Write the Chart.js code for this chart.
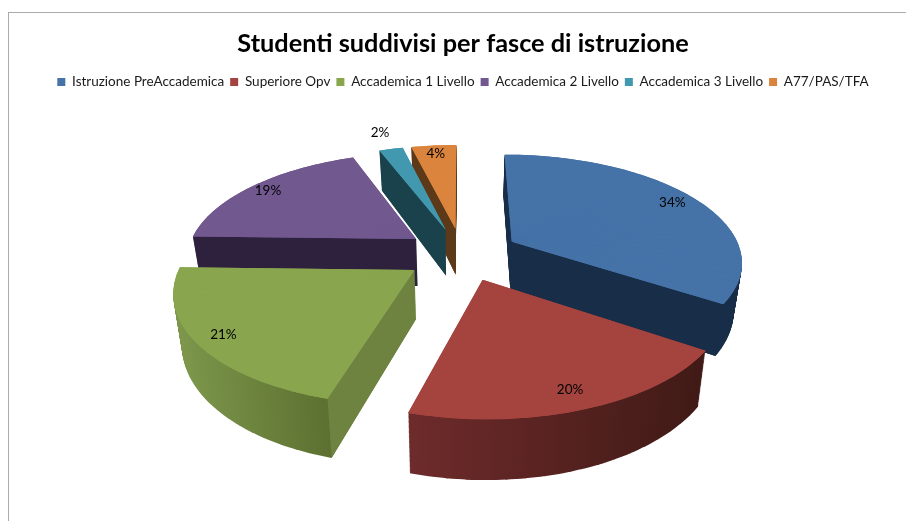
<!DOCTYPE html>
<html><head><meta charset="utf-8">
<style>
html,body{margin:0;padding:0;background:#fff;overflow:hidden}
#wrap{position:relative;width:906px;height:521px}
#frame{position:absolute;left:8px;top:12px;right:-4px;bottom:-4px;border:1px solid #ababab}
canvas{position:absolute;left:0;top:0}
</style>
<script src="https://cdn.jsdelivr.net/npm/chart.js@4"></script>
</head><body>
<div id="wrap"><div id="frame"></div><canvas id="c" width="906" height="521"></canvas></div>
<script>
const categories = ['Istruzione PreAccademica','Superiore Opv','Accademica 1 Livello','Accademica 2 Livello','Accademica 3 Livello','A77/PAS/TFA'];
const shares = [34.4,20,21,18.8,2,3.8];
const topColors = ['#4572A7','#A5443F','#89A54E','#71588F','#4198AF','#DB843D'];
const faceColors = ['#182D47','#431A17','#6E8340','#2E213E','#1A424D','#5C3918'];
const wallStart = ['#182D47','#401A16','#5C7030','#2E213E','#1A424D','#5C3918'];
const wallEnd = ['#182D47','#6E2B2B','#7C964B','#2E213E','#1A424D','#5C3918'];
const labelReach = [0.88,0.87,0.89,0.9,1.24,0.89];
const drawOrder = [5,4,3,0,2,1];

const view = {cx:462,cy:254,R:230,tilt:0.46,persp:0.17,depth:48,taper:0.03,explode:0.25};
const stepAngle = Math.PI/45;
function project(X,Y,z){
  const f=1/(1-view.persp*Y);
  const s=1-view.taper*z/view.depth;
  return {x:view.cx+view.R*X*f*s, y:view.cy+view.R*view.tilt*Y*f+z*f};
}
function flatOptions(fill){
  return {offset:0,spacing:0,borderWidth:0,backgroundColor:fill,borderColor:fill,borderAlign:'center',
    borderDash:[],borderDashOffset:0,borderJoinStyle:'round',circular:true,selfJoin:false};
}
function sliceOffset(arc){
  const mid=(arc.startAngle+arc.endAngle)/2;
  return {mid,ox:view.explode*Math.cos(mid),oy:view.explode*Math.sin(mid)};
}
/* One affine map for a thin wedge of the slice: the wedge's apex and two rim points go through the projection. */
function matrixFor(arc,g,a1,a2,z){
  const r=arc.outerRadius;
  const c1=Math.cos(a1),s1=Math.sin(a1),c2=Math.cos(a2),s2=Math.sin(a2);
  const P0=project(g.ox,g.oy,z), P1=project(g.ox+c1,g.oy+s1,z), P2=project(g.ox+c2,g.oy+s2,z);
  const ux=r*c1,uy=r*s1,vx=r*c2,vy=r*s2, det=ux*vy-vx*uy;
  const ax=P1.x-P0.x,ay=P1.y-P0.y,bx=P2.x-P0.x,by=P2.y-P0.y;
  const a=(ax*vy-bx*uy)/det, c=(bx*ux-ax*vx)/det;
  const b=(ay*vy-by*uy)/det, d=(by*ux-ay*vx)/det;
  return {a,b,c,d,e:P0.x-a*arc.x-c*arc.y,f:P0.y-b*arc.x-d*arc.y,P0};
}
function drawProjected(ctx,arc,g,z,fillFor){
  const total=arc.endAngle-arc.startAngle;
  const n=Math.max(1,Math.ceil(total/stepAngle));
  for(let k=0;k<n;k++){
    const a1=arc.startAngle+total*k/n;
    const a2=arc.startAngle+total*(k+1)/n;
    const lap=k<n-1?0.004:0;
    const m=matrixFor(arc,g,a1,a2,z);
    ctx.save();
    ctx.transform(m.a,m.b,m.c,m.d,m.e,m.f);
    const ghost=Object.create(arc);
    ghost.startAngle=a1; ghost.endAngle=a2+lap; ghost.circumference=a2+lap-a1;
    ghost.options=flatOptions(fillFor(m));
    arc.draw.call(ghost,ctx);
    ctx.restore();
  }
}
/* Solid underlay in the slice's colour, so the joins between thin wedges do not show. */
function underlay(ctx,arc,g,fill){
  const total=arc.endAngle-arc.startAngle;
  const n=Math.max(2,Math.ceil(total/stepAngle));
  const A=project(g.ox,g.oy,0);
  ctx.fillStyle=fill;
  ctx.beginPath();ctx.moveTo(A.x,A.y);
  for(let k=0;k<=n;k++){
    const ang=arc.startAngle+total*k/n;
    const p=project(g.ox+Math.cos(ang),g.oy+Math.sin(ang),0);
    ctx.lineTo(p.x,p.y);
  }
  ctx.closePath();ctx.fill();
}
const pie3d={
  id:'pie3d',
  beforeDatasetDraw(chart,args){
    const ctx=chart.ctx, arcs=args.meta.data;
    drawOrder.forEach(i=>{
      const arc=arcs[i], g=sliceOffset(arc);
      const rim=(ang,z)=>project(g.ox+Math.cos(ang),g.oy+Math.sin(ang),z);
      for(let z=view.depth;z>=1;z-=1){
        const xs=rim(arc.startAngle,z).x, xe=rim(arc.endAngle,z).x;
        drawProjected(ctx,arc,g,z,m=>{
          const n2=m.a*m.a+m.c*m.c;
          const t0=(xs-m.P0.x)/n2, t1=(xe-m.P0.x)/n2;
          const gr=ctx.createLinearGradient(arc.x+t0*m.a,arc.y+t0*m.c,arc.x+t1*m.a,arc.y+t1*m.c);
          gr.addColorStop(0,wallStart[i]);gr.addColorStop(1,wallEnd[i]);
          return gr;
        });
      }
      const A=project(g.ox,g.oy,0), A2=project(g.ox,g.oy,view.depth), M=rim(g.mid,0);
      [arc.startAngle,arc.endAngle].forEach(ang=>{
        const B=rim(ang,0), B2=rim(ang,view.depth);
        const ex=B.x-A.x, ey=B.y-A.y;
        const side=ex*(M.y-A.y)-ey*(M.x-A.x);
        if(side*ex<0){
          ctx.fillStyle=faceColors[i];
          ctx.beginPath();ctx.moveTo(A.x,A.y);ctx.lineTo(B.x,B.y);ctx.lineTo(B2.x,B2.y);ctx.lineTo(A2.x,A2.y);ctx.closePath();ctx.fill();
        }
      });
      underlay(ctx,arc,g,topColors[i]);
      drawProjected(ctx,arc,g,0,()=>topColors[i]);
    });
    ctx.save();
    ctx.fillStyle='#000';ctx.font='13.5px Lato';ctx.textAlign='center';ctx.textBaseline='middle';
    arcs.forEach((arc,i)=>{
      const g=sliceOffset(arc), t=labelReach[i];
      const p=project(g.ox+t*Math.cos(g.mid),g.oy+t*Math.sin(g.mid),0);
      ctx.fillText(Math.round(shares[i])+'%',p.x,p.y);
    });
    ctx.restore();
    return false;
  }
};
new Chart(document.getElementById('c'),{
  type:'pie',
  data:{labels:categories,datasets:[{data:shares,backgroundColor:topColors,borderWidth:0}]},
  options:{
    responsive:false,animation:false,
    layout:{padding:{left:20}},
    plugins:{
      tooltip:{enabled:false},
      title:{display:true,text:'Studenti suddivisi per fasce di istruzione',color:'#000',
        font:{family:'Lato',size:25.3,weight:'bold'},padding:{top:29,bottom:10}},
      legend:{display:true,position:'top',
        labels:{color:'#1a1a1a',font:{family:'Lato',size:13.5},boxWidth:8,boxHeight:8,padding:6}}
    }
  },
  plugins:[pie3d]
});
</script>
</body></html>
